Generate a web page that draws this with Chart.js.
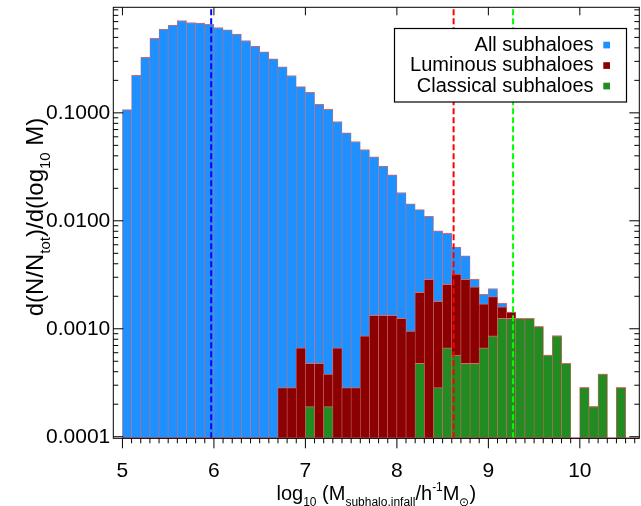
<!DOCTYPE html>
<html lang="en">
<head>
  <meta charset="UTF-8">
  <title>Subhalo mass function</title>
  <script src="https://cdn.jsdelivr.net/npm/chart.js"></script>
  <style>
    html, body { margin: 0; padding: 0; background: #fff; }
    #chart-container { width: 641px; height: 506px; position: relative; }
  </style>
</head>
<body>
  <div id="chart-container">
    <canvas id="myChart"></canvas>
  </div>

  <script>
  // histogram bins in log10(M), 0.1 dex wide (bin centres)
  const binCentres = [
    5.05, 5.15, 5.25, 5.35, 5.45, 5.55, 5.65, 5.75, 5.85, 5.95,
    6.05, 6.15, 6.25, 6.35, 6.45, 6.55, 6.65, 6.75, 6.85, 6.95,
    7.05, 7.15, 7.25, 7.35, 7.45, 7.55, 7.65, 7.75, 7.85, 7.95,
    8.05, 8.15, 8.25, 8.35, 8.45, 8.55, 8.65, 8.75, 8.85, 8.95,
    9.05, 9.15, 9.25, 9.35, 9.45, 9.55, 9.65, 9.75, 9.85, 9.95,
    10.05, 10.15, 10.25, 10.35, 10.45
  ];

  const allSubhaloes = [
    0.107, 0.223, 0.326, 0.489, 0.596, 0.649, 0.717, 0.687, 0.677, 0.659,
    0.618, 0.588, 0.536, 0.468, 0.415, 0.367, 0.316, 0.267, 0.222, 0.175,
    0.155, 0.120, 0.108, 0.0832, 0.0653, 0.0543, 0.0458, 0.0392, 0.0321, 0.0267,
    0.0183, 0.0144, 0.0127, 0.0110, 0.00808, 0.00764, 0.00570, 0.00474, 0.00287, 0.00209,
    0.00236, 0.00172, 0.00143, 0.00125, 0.00125, 0.00105, 0.000571, 0.000861, 0.000478, null,
    0.000286, 0.000190, 0.000381, null, 0.000286
  ];

  const luminousSubhaloes = [
    null, null, null, null, null, null, null, null, null, null,
    null, null, null, null, null, null, null, 0.000286, 0.000286, 0.000667,
    0.000478, 0.000478, 0.000381, 0.000667, 0.000286, 0.000286, 0.000861, 0.00133, 0.00133, 0.00133,
    0.00125, 0.000952, 0.00217, 0.00287, 0.00180, 0.00258, 0.00321, 0.00287, 0.00245, 0.00170,
    0.00199, 0.00160, 0.00143, 0.00125, 0.00125, 0.00105, 0.000571, 0.000861, 0.000478, null,
    0.000286, 0.000190, 0.000381, null, 0.000286
  ];

  const classicalSubhaloes = [
    null, null, null, null, null, null, null, null, null, null,
    null, null, null, null, null, null, null, null, null, null,
    0.000190, null, 0.000190, null, null, null, null, null, null, null,
    null, null, 0.000478, null, 0.000286, 0.000667, 0.000571, 0.000478, 0.000478, 0.000667,
    0.000861, 0.00125, 0.00125, 0.00125, 0.00125, 0.00105, 0.000571, 0.000861, 0.000478, null,
    0.000286, 0.000190, 0.000381, null, 0.000286
  ];

  const seriesLabels = ['All subhaloes', 'Luminous subhaloes', 'Classical subhaloes'];
  const seriesColours = ['#1e90ff', '#8b0000', '#228b22'];
  const outlineColour = '#d46a6a';

  // dashed markers (median mass of each sample)
  const medianMass = [5.97, 8.62, 9.27];
  const medianColours = ['#0000ff', '#ff0000', '#00ff00'];

  const xTickValues = [5, 6, 7, 8, 9, 10];
  const yTickValues = [0.0001, 0.001, 0.01, 0.1];
  const xRange = [4.9, 10.65];
  const yRange = [0.0000967, 0.95];

  const FONT = "'Liberation Sans', Arial, Helvetica, sans-serif";

  function toPoints(values) {
    return binCentres.map((x, i) => ({ x: x, y: values[i] }));
  }

  function barSet(i, values) {
    return {
      type: 'bar',
      label: seriesLabels[i],
      data: toPoints(values),
      backgroundColor: seriesColours[i],
      borderColor: outlineColour,
      borderWidth: { top: 1, left: 0.6, right: 0.6, bottom: 0 },
      borderSkipped: false,
      grouped: false,
      barPercentage: 1,
      categoryPercentage: 1,
      order: 3 - i
    };
  }

  function markerSet(i) {
    return {
      type: 'line',
      data: [{ x: medianMass[i], y: yRange[0] }, { x: medianMass[i], y: yRange[1] }],
      borderColor: medianColours[i],
      borderWidth: 2,
      borderDash: [6, 3],
      pointRadius: 0,
      fill: false,
      order: 0
    };
  }

  // text with sub/superscripts: parts = [[text, 'sub'|'sup'|undefined], ...]
  function partFont(p, size) {
    return (p[1] ? Math.round(size * 0.62) : size) + 'px ' + FONT;
  }
  function drawRich(ctx, parts, size, cx, baseY) {
    let w = 0;
    parts.forEach(p => { ctx.font = partFont(p, size); w += ctx.measureText(p[0]).width; });
    let x = cx - w / 2;
    ctx.textAlign = 'left';
    ctx.textBaseline = 'alphabetic';
    parts.forEach(p => {
      ctx.font = partFont(p, size);
      const dy = p[1] === 'sub' ? size * 0.3 : p[1] === 'sup' ? -size * 0.45 : 0;
      ctx.fillText(p[0], x, baseY + dy);
      x += ctx.measureText(p[0]).width;
    });
  }

  const framePlugin = {
    id: 'frame',
    afterDatasetsDraw(chart) {
      const ctx = chart.ctx;
      const a = chart.chartArea;
      const xs = chart.scales.x, ys = chart.scales.y;
      ctx.save();

      // histogram baseline
      ctx.strokeStyle = outlineColour;
      ctx.lineWidth = 1.5;
      ctx.beginPath();
      ctx.moveTo(xs.getPixelForValue(binCentres[0] - 0.05), a.bottom);
      ctx.lineTo(a.right, a.bottom);
      ctx.stroke();

      // frame
      ctx.strokeStyle = '#000';
      ctx.lineWidth = 1;
      ctx.strokeRect(a.left, a.top, a.right - a.left, a.bottom - a.top);

      ctx.beginPath();
      // y ticks, inside on both sides
      for (let e = -5; e <= 0; e++) {
        for (let m = 1; m <= 9; m++) {
          const v = m * Math.pow(10, e);
          if (v < yRange[0] || v > yRange[1]) continue;
          const py = ys.getPixelForValue(v);
          const len = m === 1 ? 10 : 5;
          ctx.moveTo(a.left, py); ctx.lineTo(a.left + len, py);
          ctx.moveTo(a.right, py); ctx.lineTo(a.right - len, py);
        }
      }
      // x ticks: bottom outside every 0.1, top majors inside
      for (let k = 50; k <= 106; k++) {
        const v = k / 10;
        const px = xs.getPixelForValue(v);
        const major = k % 10 === 0;
        ctx.moveTo(px, a.bottom); ctx.lineTo(px, a.bottom + (major ? 10 : 5));
        if (major) { ctx.moveTo(px, a.top); ctx.lineTo(px, a.top + 8); }
      }
      ctx.stroke();

      // legend
      const lx = 394.5, ly = 28.5, lw = 232, lh = 73.5;
      ctx.fillStyle = '#fff';
      ctx.fillRect(lx, ly, lw, lh);
      ctx.strokeStyle = '#000';
      ctx.lineWidth = 1.2;
      ctx.strokeRect(lx, ly, lw, lh);
      ctx.font = '20px ' + FONT;
      ctx.textAlign = 'right';
      ctx.textBaseline = 'alphabetic';
      seriesLabels.forEach((label, i) => {
        const by = 50.7 + i * 20.5;
        ctx.fillStyle = '#000';
        ctx.fillText(label, 593.5, by);
        ctx.fillStyle = seriesColours[i];
        ctx.fillRect(603.3, by - 9, 6.7, 6.7);
      });

      // axis titles
      ctx.fillStyle = '#000';
      drawRich(ctx, [['log'], ['10', 'sub'], [' (M'], ['subhalo,infall', 'sub'], ['/h'], ['-1', 'sup'], ['M'], ['\u2299', 'sub'], [')']],
        20, (a.left + a.right) / 2, 500);
      ctx.translate(43, 217);
      ctx.rotate(-Math.PI / 2);
      drawRich(ctx, [['d(N/N'], ['tot', 'sub'], [')/d(log'], ['10', 'sub'], [' M)']], 24, 0, 0);
      ctx.restore();
    }
  };

  const config = {
    type: 'bar',
    data: {
      datasets: [
        barSet(0, allSubhaloes),
        barSet(1, luminousSubhaloes),
        barSet(2, classicalSubhaloes),
        markerSet(0), markerSet(1), markerSet(2)
      ]
    },
    options: {
      responsive: true,
      maintainAspectRatio: false,
      animation: false,
      events: [],
      layout: { padding: { top: 7.3, right: 1.7, left: 0, bottom: 0 } },
      plugins: { legend: { display: false }, tooltip: { enabled: false } },
      scales: {
        x: {
          type: 'linear',
          min: xRange[0],
          max: xRange[1],
          offset: false,
          grid: { display: false, drawTicks: false },
          border: { display: false },
          ticks: {
            color: '#000',
            font: { family: FONT, size: 21 },
            padding: 20,
            maxRotation: 0,
            callback: v => String(v)
          },
          afterBuildTicks: s => { s.ticks = xTickValues.map(v => ({ value: v })); },
          afterFit: s => { s.height = 67.7; s.paddingLeft = 0; s.paddingRight = 0; }
        },
        y: {
          type: 'logarithmic',
          min: yRange[0],
          max: yRange[1],
          grid: { display: false, drawTicks: false },
          border: { display: false },
          ticks: {
            color: '#000',
            font: { family: FONT, size: 21 },
            padding: 3,
            autoSkip: false,
            callback: v => Number(v).toFixed(4)
          },
          afterBuildTicks: s => { s.ticks = yTickValues.map(v => ({ value: v })); },
          afterFit: s => { s.width = 113.3; s.paddingTop = 0; s.paddingBottom = 0; }
        }
      }
    },
    plugins: [framePlugin]
  };

  new Chart(document.getElementById('myChart'), config);
  </script>
</body>
</html>
